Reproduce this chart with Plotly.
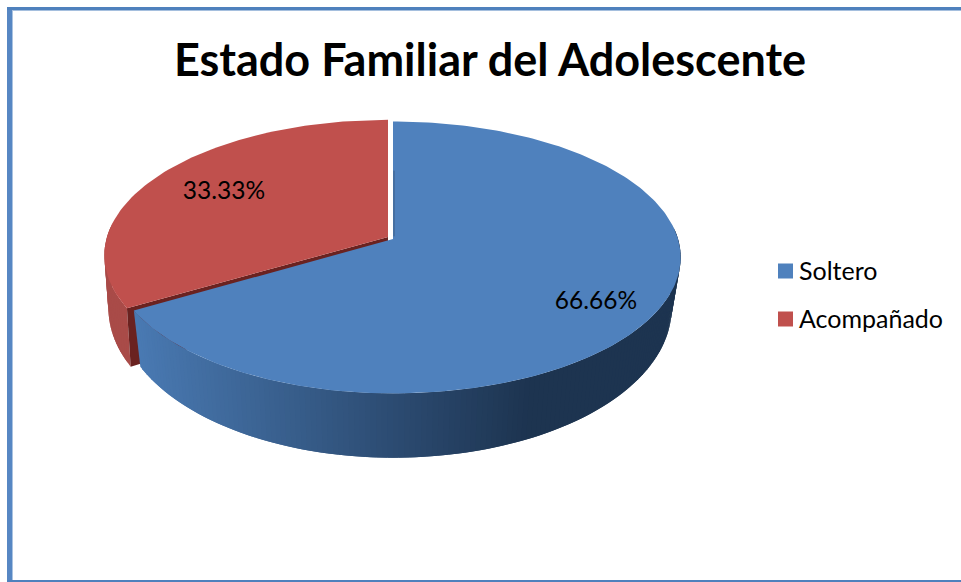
import numpy as np
import plotly.graph_objects as go

# Data
title = 'Estado Familiar del Adolescente'
categories = ['Soltero', 'Acompañado']
values = [66.66, 33.33]
colors = ['#4F81BD', '#C0504D']

FONT = 'Lato'

# --- perspective of the 3D pie, in pixels of the picture ---
K = 0.1355
BLUE_TOP = dict(cx=393, cy=239, rx_l=279, rx_r=285, ry=133.5)
BLUE_BOTTOM = dict(cx=393, cy=288, rx_l=272, rx_r=276, ry=146.7)
# the red slice is pulled out a little to the left
RED_TOP = dict(cx=388, cy=237, rx_l=281, rx_r=281, ry=133)
RED_BOTTOM = dict(cx=388, cy=288, rx_l=277, rx_r=277, ry=146.7)


def project(disk, angle, r=1.0):
    # angle runs clockwise from 12 o'clock, like the Excel pie
    u = r * np.sin(angle)
    v = -r * np.cos(angle)
    s = 1 / (1 - K * v)
    rx = np.where(u < 0, disk['rx_l'], disk['rx_r'])
    return disk['cx'] + rx * u * s, disk['cy'] + disk['ry'] * v * s


def blend(a, b, t):
    ca = [int(a[i:i + 2], 16) for i in (1, 3, 5)]
    cb = [int(b[i:i + 2], 16) for i in (1, 3, 5)]
    return 'rgb(%d,%d,%d)' % tuple(ca[i] + (cb[i] - ca[i]) * t for i in range(3))


def poly(xs, ys, color):
    return go.Scatter(x=list(xs), y=list(ys), mode='lines', fill='toself', fillcolor=color,
                      line=dict(color=color, width=0), hoverinfo='skip', showlegend=False)


fig = go.Figure()

# angles of the slices
shares = np.array(values) / sum(values) * 2 * np.pi
start = np.concatenate([[0], np.cumsum(shares)[:-1]])
end = np.cumsum(shares)

# --- red slice: outer wall in strips, cut wall, top ---
a = np.linspace(start[1], end[1], 81)
tx, ty = project(RED_TOP, a)
bx, by = project(RED_BOTTOM, a)
for i in range(len(a) - 2):
    if ty[i] < 230:
        continue
    fig.add_trace(poly([tx[i], tx[i + 2], bx[i + 2], bx[i]], [ty[i], ty[i + 2], by[i + 2], by[i]], '#A94B48'))
c0x, c0y = project(RED_TOP, start[1], 0)
c1x, c1y = project(RED_TOP, start[1])
c2x, c2y = project(RED_BOTTOM, start[1])
c3x, c3y = project(RED_BOTTOM, start[1], 0)
fig.add_trace(poly([c0x, c1x, c2x, c3x], [c0y, c1y, c2y, c3y], '#6A2220'))
fig.add_trace(poly(np.r_[c0x, tx], np.r_[c0y, ty], colors[1]))

# --- blue slice: wall in overlapping strips for the shading, then top ---
a = np.linspace(start[0], end[0], 241)
tx, ty = project(BLUE_TOP, a)
bx, by = project(BLUE_BOTTOM, a)
for i in range(len(a) - 2):
    if ty[i] < 230 and ty[i + 2] < 230:
        continue
    t = np.clip((tx[i] - 135) / 400, 0, 1)
    shade = blend('#4A7AB3', '#1D3450', t)
    fig.add_trace(poly([tx[i], tx[i + 2], bx[i + 2], bx[i]], [ty[i], ty[i + 2], by[i + 2], by[i]], shade))
d0x, d0y = project(BLUE_TOP, start[0], 0)
fig.add_trace(poly(np.r_[d0x, tx], np.r_[d0y, ty], colors[0]))

# thin dark sliver of the blue cut wall
s0x, s0y = project(BLUE_TOP, start[0], 0.02)
s1x, s1y = project(BLUE_TOP, start[0], 0.55)
fig.add_trace(go.Scatter(x=[s0x + 1, s1x + 1], y=[s0y, s1y], mode='lines',
                         line=dict(color='#3F5F86', width=1), hoverinfo='skip', showlegend=False))

# --- percentage labels ---
label_x = [596, 224]
label_y = [303, 193]
fig.add_trace(go.Scatter(x=label_x, y=label_y, mode='text',
                         text=['%.2f%%' % v for v in values],
                         textfont=dict(family=FONT, size=24.5, color='#000000'),
                         hoverinfo='skip', showlegend=False))

# --- legend ---
legend_x = [785.5, 785.5]
legend_text_x = [799, 799]
legend_y = [271, 319]
fig.add_trace(go.Scatter(x=legend_x, y=legend_y, mode='markers',
                         marker=dict(symbol='square', size=15, color=colors),
                         hoverinfo='skip', showlegend=False))
fig.add_trace(go.Scatter(x=legend_text_x, y=[y + 3 for y in legend_y], mode='text',
                         text=categories, textposition='middle right',
                         textfont=dict(family=FONT, size=25, color='#000000'),
                         hoverinfo='skip', showlegend=False))

# --- frame: only left, top and bottom edges show ---
frame = [(7, 7, 12.5, 582, '#5787C3'), (7, 7, 961, 10, '#4F81BD'),
         (12.5, 10, 961, 11, '#A5BFDE'), (7, 580, 961, 582, '#4F81BD')]
shapes = [dict(type='rect', x0=f[0], y0=f[1], x1=f[2], y1=f[3], fillcolor=f[4],
               line=dict(width=0), layer='below') for f in frame]

fig.update_layout(
    title=dict(text='<b>%s</b>' % title, x=490 / 961, y=1 - 60 / 582, xanchor='center', yanchor='middle',
               font=dict(family=FONT, size=45, color='#000000')),
    width=961, height=582,
    margin=dict(l=0, r=0, t=0, b=0),
    paper_bgcolor='#FFFFFF', plot_bgcolor='#FFFFFF',
    xaxis=dict(range=[0, 961], visible=False, fixedrange=True),
    yaxis=dict(range=[582, 0], visible=False, fixedrange=True),
    shapes=shapes,
    showlegend=False,
)

fig.write_html('out.html', post_script="document.body.style.margin='0';", config=dict(displayModeBar=False))
